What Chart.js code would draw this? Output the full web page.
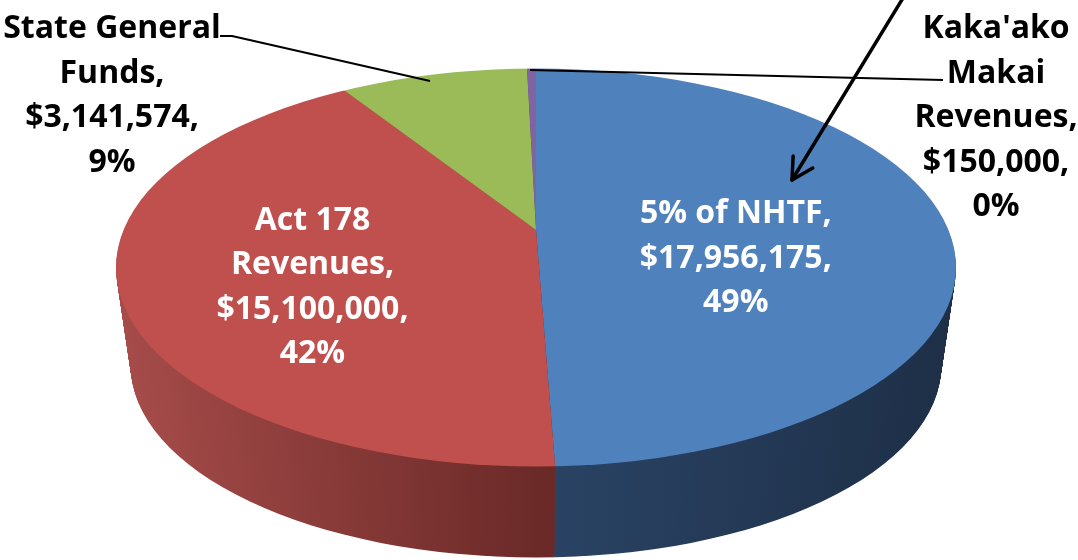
<!DOCTYPE html>
<html><head><meta charset="utf-8">
<script src="https://cdn.jsdelivr.net/npm/chart.js@4.4.0/dist/chart.umd.min.js"></script>
<style>html,body{margin:0;padding:0;background:#fff;overflow:hidden}canvas{display:block}</style>
</head><body>
<canvas id="c" width="1078" height="560"></canvas>
<script>
// ---- data ----
const categories = ["5% of NHTF", "Act 178 Revenues", "State General Funds", "Kaka'ako Makai Revenues"];
const nameLines = [["5% of NHTF,"], ["Act 178", "Revenues,"], ["State General", "Funds,"], ["Kaka'ako", "Makai", "Revenues,"]];
const amounts = [17956175, 15100000, 3141574, 150000];
const amountLabels = ["$17,956,175,", "$15,100,000,", "$3,141,574,", "$150,000,"];
const percentLabels = ["49%", "42%", "9%", "0%"];
const topColors = ["#4F81BD", "#C0504D", "#9BBB59", "#8064A2"];

// perspective helpers: the library's arc elements are redrawn from a projected apex,
// clipped to the projected rim ellipse (a tilted disc seen in perspective)
function geometry(chart, o) {
  const meta = chart.getDatasetMeta(0);
  const e0 = meta.data[0];
  const e = o.tilt, q = Math.sqrt(1 - e * e);
  const proj = phi => Math.atan2(Math.sin(phi) * q, Math.cos(phi));
  const angles = meta.data.map(el => {
    const s = proj(el.startAngle);
    let t = proj(el.endAngle);
    while (t < s) t += 2 * Math.PI;
    return [s, t];
  });
  return { meta, Ex: e0.x, Ey: e0.y, r: e0.outerRadius, e, angles };
}

const pie3d = {
  id: 'pie3d',
  beforeDatasetsDraw(chart, args, o) {
    const ctx = chart.ctx;
    const g = geometry(chart, o);
    const { meta, Ex, Ey, r, e, angles } = g;
    const mk = (stops) => {
      const gr = ctx.createLinearGradient(Ex - r, 0, Ex + r, 0);
      stops.forEach(s => gr.addColorStop(s[0], s[1]));
      return gr;
    };
    const sideFills = o.sideStops.map(mk);
    const drawLayer = (dy, k, fills) => {
      const a = o.radiusX * k, b = o.radiusY * k;
      const cx = Ex, cy = Ey + dy;
      const apx = cx, apy = cy - b * e;
      ctx.save();
      ctx.beginPath(); ctx.ellipse(cx, cy, a, b, 0, 0, 2 * Math.PI); ctx.clip();
      ctx.translate(apx, apy); ctx.scale(a / r, b / r); ctx.translate(-apx, -apy);
      meta.data.forEach((el, i) => {
        const f = Object.create(el);
        Object.assign(f, {
          x: apx, y: apy,
          startAngle: angles[i][0], endAngle: angles[i][1],
          circumference: angles[i][1] - angles[i][0],
          outerRadius: r * 2.5, innerRadius: 0,
          options: Object.assign({}, el.options, fills ? { backgroundColor: fills[i] } : {}, { borderWidth: 0 })
        });
        f.draw(ctx);
      });
      ctx.restore();
    };
    for (let d = o.depth; d > 0; d--) {
      drawLayer(d, 1 - (1 - o.bottomScale) * d / o.depth, sideFills);
    }
    drawLayer(0, 1, null);
    return false;
  }
};

const labelsPlugin = {
  id: 'pieLabels',
  afterDraw(chart, args, o) {
    const ctx = chart.ctx;
    const { meta, Ex, Ey, r, e } = geometry(chart, o);
    const q = Math.sqrt(1 - e * e);
    ctx.save();
    ctx.font = o.font;
    ctx.textAlign = 'center';
    ctx.textBaseline = 'middle';
    const lines = i => nameLines[i].concat([amountLabels[i], percentLabels[i]]);
    // inside labels at the projected centroid of each slice
    o.inside.forEach(spec => {
      const p = meta.data[spec.index].tooltipPosition();
      const u = (p.x - Ex) / r, v = (p.y - Ey) / r;
      const den = 1 - e * v;
      const X = Ex + o.radiusX * u * q / den + spec.dx;
      const Y = Ey + o.radiusY * (v - e) / den + spec.dy;
      const ls = lines(spec.index);
      ctx.fillStyle = '#FFFFFF';
      ls.forEach((t, k) => ctx.fillText(t, X, Y + (k - (ls.length - 1) / 2) * o.lineHeight));
    });
    // outside labels with leader lines
    ctx.strokeStyle = '#000'; ctx.lineWidth = 2; ctx.lineJoin = 'round';
    o.outside.forEach(spec => {
      const ls = lines(spec.index);
      ctx.fillStyle = '#000';
      ls.forEach((t, k) => ctx.fillText(t, spec.x, spec.y + k * o.lineHeight));
      ctx.beginPath();
      spec.leader.forEach((pt, k) => k ? ctx.lineTo(pt[0], pt[1]) : ctx.moveTo(pt[0], pt[1]));
      ctx.stroke();
    });
    // arrow annotation
    const a = o.arrow;
    ctx.lineWidth = 3.5; ctx.lineCap = 'round';
    ctx.beginPath(); ctx.moveTo(a.from[0], a.from[1]); ctx.lineTo(a.to[0], a.to[1]); ctx.stroke();
    const ang = Math.atan2(a.to[1] - a.from[1], a.to[0] - a.from[0]);
    ctx.beginPath();
    ctx.moveTo(a.to[0] - a.head * Math.cos(ang - 0.5), a.to[1] - a.head * Math.sin(ang - 0.5));
    ctx.lineTo(a.to[0], a.to[1]);
    ctx.lineTo(a.to[0] - a.head * Math.cos(ang + 0.5), a.to[1] - a.head * Math.sin(ang + 0.5));
    ctx.stroke();
    ctx.restore();
  }
};

new Chart(document.getElementById('c'), {
  type: 'pie',
  data: {
    labels: categories,
    datasets: [{ data: amounts, backgroundColor: topColors, borderWidth: 0, clip: false }]
  },
  options: {
    responsive: false,
    animation: false,
    events: [],
    layout: { padding: { left: 337, right: 343, top: 68, bottom: 93 } },
    plugins: {
      legend: { display: false },
      tooltip: { enabled: false },
      pie3d: {
        radiusX: 420, radiusY: 199, tilt: 0.19, depth: 98, bottomScale: 0.965,
        sideStops: [
          [[0, '#2C4868'], [0.5, '#2A4465'], [1, '#1E2F47']],
          [[0, '#A64C4A'], [0.5, '#6B2A28'], [1, '#6B2A28']],
          [[0, '#7A9444'], [1, '#5E7434']],
          [[0, '#65507F'], [1, '#4C3C61']]
        ]
      },
      pieLabels: {
        radiusX: 420, radiusY: 199, tilt: 0.19,
        font: "bold 32px 'Open Sans', 'DejaVu Sans', sans-serif",
        lineHeight: 44.5,
        inside: [ { index: 0, dx: -6, dy: 31 }, { index: 1, dx: -21, dy: 28 } ],
        outside: [
          { index: 2, x: 112, y: 29, leader: [[220, 36], [232, 36], [430, 81]] },
          { index: 3, x: 996, y: 29, leader: [[530, 70], [943, 80]] }
        ],
        arrow: { from: [903, -2], to: [792, 180], head: 24 }
      }
    }
  },
  plugins: [pie3d, labelsPlugin]
});
</script>
</body></html>
